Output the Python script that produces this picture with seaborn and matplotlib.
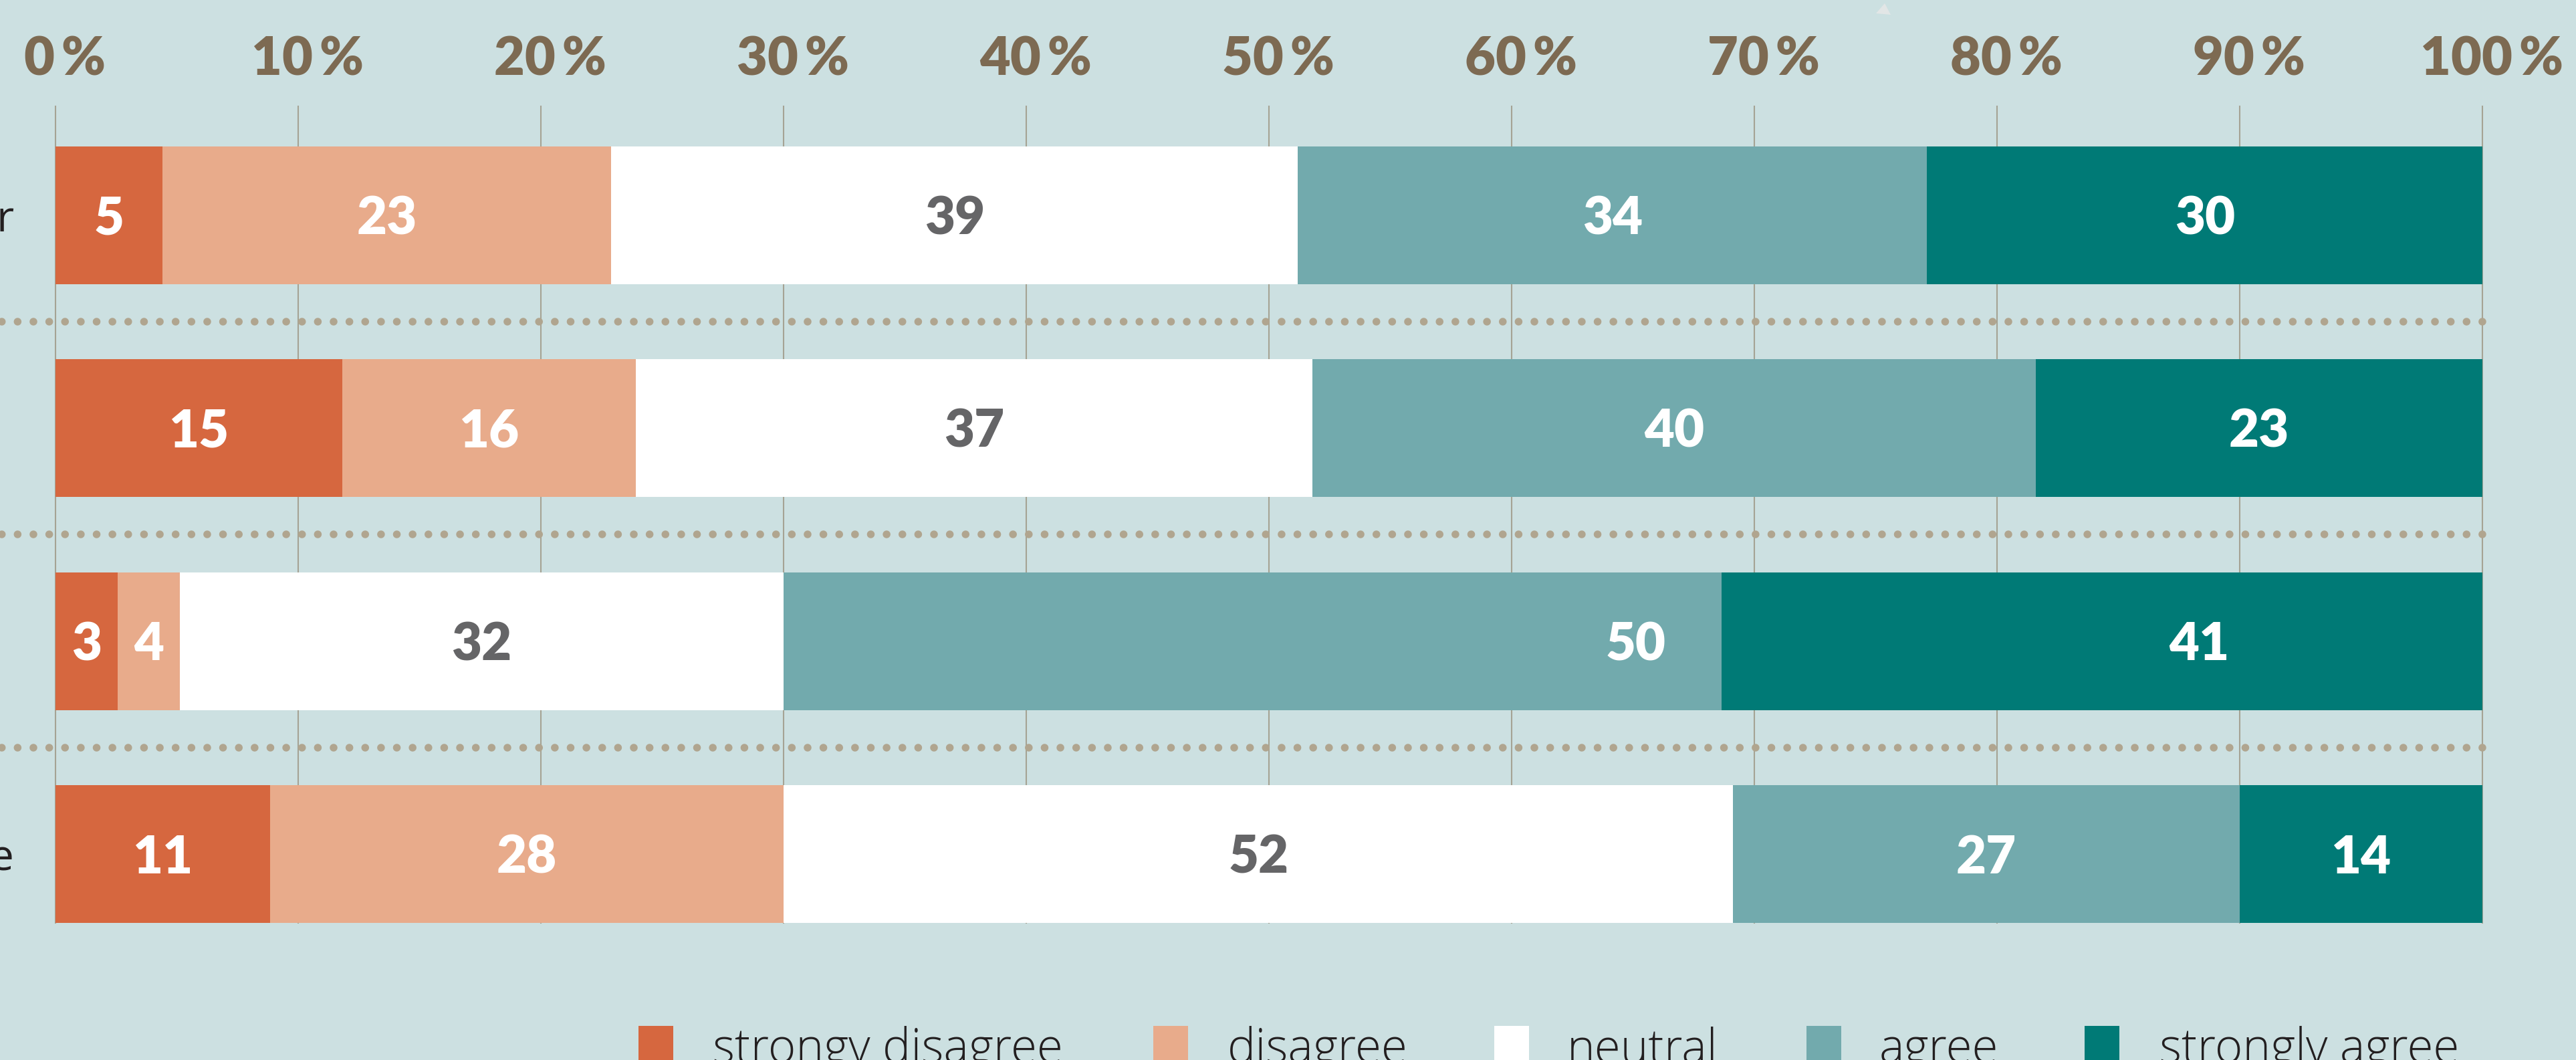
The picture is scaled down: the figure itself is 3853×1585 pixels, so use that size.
import numpy as np
import matplotlib
matplotlib.use("Agg")
import matplotlib.pyplot as plt
import seaborn as sns
from matplotlib.patches import Rectangle, Polygon
from matplotlib.transforms import ScaledTranslation

# ---------------- data ----------------
row_ids = ["row 1", "row 2", "row 3", "row 4"]
row_labels = ["r", "", "", "e"]          # only the visible ends of the row labels
categories = ["strongy disagree", "disagree", "neutral", "agree", "strongly agree"]

# counts printed on the bars
strongly_disagree_n = [5, 15, 3, 11]
disagree_n = [23, 16, 4, 28]
neutral_n = [39, 37, 32, 52]
agree_n = [34, 40, 50, 27]
strongly_agree_n = [30, 23, 41, 14]

# shares (% of the bar width)
strongly_disagree_pct = [4.42, 11.82, 2.56, 8.83]
disagree_pct = [18.48, 12.09, 2.57, 21.17]
neutral_pct = [28.29, 27.89, 24.87, 39.13]
agree_pct = [25.93, 29.79, 38.65, 20.87]
strongly_agree_pct = [22.88, 18.41, 31.35, 10.00]

x_ticks = [0, 10, 20, 30, 40, 50, 60, 70, 80, 90, 100]
x_tick_labels = [f"{v}\u2009%" for v in x_ticks]

# ---------------- style ----------------
colors = ["#D6673F", "#E8AB8B", "#FFFFFF", "#72AAAD", "#007A76"]
label_colors = ["white", "white", "#656567", "white", "white"]
bg = "#CCE0E1"
NUM_FONT = ["Lato", "DejaVu Sans"]
TXT_FONT = ["Open Sans", "DejaVu Sans"]
# manual nudges of a few labels (row, category) -> % shift, as in the original
label_nudge = {(2, 3): 15.8, (2, 4): 4.0}

W, H, DPI = 3853, 1585, 100
fig = plt.figure(figsize=(W / DPI, H / DPI), dpi=DPI)
fig.patch.set_facecolor(bg)

left_px, right_px, top_px, bottom_px = 83, 3713, 159, 1380
ax = fig.add_axes([left_px / W, 1 - bottom_px / H,
                   (right_px - left_px) / W, (bottom_px - top_px) / H])
ax.set_facecolor(bg)

pct = np.array([strongly_disagree_pct, disagree_pct, neutral_pct,
                agree_pct, strongly_agree_pct]).T
cnt = np.array([strongly_disagree_n, disagree_n, neutral_n,
                agree_n, strongly_agree_n]).T
cum = np.cumsum(pct, axis=1)

bar_h = 0.647
for j in reversed(range(len(categories))):
    sns.barplot(x=cum[:, j], y=row_ids, orient="h", color=colors[j],
                saturation=1, width=bar_h, linewidth=0, edgecolor="none",
                ax=ax, zorder=2)

ax.set_xlim(0, 100)
ax.set_ylim(3.3236, -0.512)
for s in ax.spines.values():
    s.set_visible(False)
ax.set_xlabel("")
ax.set_ylabel("")

# grid
ax.set_xticks(x_ticks)
ax.xaxis.grid(True, color="#A5A394", linewidth=1.5)
ax.yaxis.grid(False)
ax.set_axisbelow(True)
for gl in ax.xaxis.get_gridlines():
    gl.set_clip_on(False)
    gl.set_zorder(0.5)

# x tick labels at top
ax.xaxis.tick_top()
ax.set_xticklabels(x_tick_labels)
ax.tick_params(axis="x", length=0, pad=24, labelsize=57, labelcolor="#7D6A52")
off = ScaledTranslation(14 / DPI, 0, fig.dpi_scale_trans)
for lab in ax.get_xticklabels():
    lab.set_fontweight("heavy")
    lab.set_family(NUM_FONT)
    lab.set_transform(lab.get_transform() + off)

# y tick labels
ax.set_yticks(range(len(row_ids)))
ax.set_yticklabels(row_labels)
ax.tick_params(axis="y", length=0, pad=45, labelsize=46, labelcolor="#231F20")
for lab in ax.get_yticklabels():
    lab.set_family(TXT_FONT)

# dotted separators
px_per_pct = (right_px - left_px) / 100.0
x_start = -left_px / px_per_pct
for i in range(len(row_ids) - 1):
    ax.plot([100, x_start], [i + 0.5, i + 0.5], color="#B0A58F", lw=8.3,
            linestyle=(0, (0.01, 2.04)), dash_capstyle="round",
            solid_capstyle="round", clip_on=False, zorder=1)

# value labels
for i in range(len(row_ids)):
    for j in range(len(categories)):
        xc = cum[i, j] - pct[i, j] / 2 + label_nudge.get((i, j), 0)
        ax.text(xc, i + 0.09, str(cnt[i, j]), ha="center", va="baseline",
                fontsize=56, fontweight="heavy", color=label_colors[j],
                family=NUM_FONT, zorder=5)

# legend (bottom, cut by the canvas edge)
sq_x = [955, 1725, 2235, 2702, 3118]
txt_x = [1066, 1836, 2344, 2811, 3230]
sq, sq_top, base_y = 52, 1534, 1589
for j, name in enumerate(categories):
    fig.add_artist(Rectangle((sq_x[j] / W, 1 - (sq_top + sq) / H), sq / W, sq / H,
                             transform=fig.transFigure, facecolor=colors[j],
                             edgecolor="none"))
    fig.text(txt_x[j] / W, 1 - base_y / H, name, ha="left", va="baseline",
             fontsize=51, fontweight="light", color="#231F20", family=TXT_FONT)

# small mark at the top edge
tri = np.array([[2819, 5], [2806, 20], [2828, 22]], dtype=float)
fig.add_artist(Polygon(np.c_[tri[:, 0] / W, 1 - tri[:, 1] / H], closed=True,
                       transform=fig.transFigure, facecolor="#E2E6E6",
                       edgecolor="none"))

fig.savefig("out.png", dpi=DPI, facecolor=bg)
